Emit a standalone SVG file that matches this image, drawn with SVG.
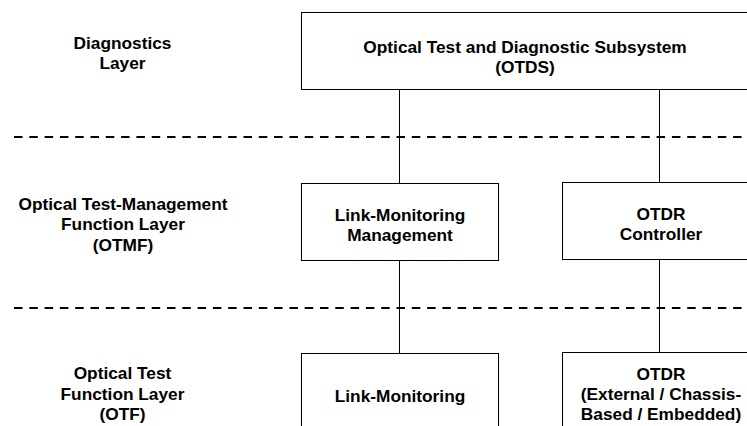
<svg xmlns="http://www.w3.org/2000/svg" width="747" height="426" viewBox="0 0 747 426">
<style>
  .box { fill: #ffffff; stroke: #000000; stroke-width: 1; }
  .t { font-family: "Liberation Sans", Arial, sans-serif; font-weight: bold; font-size: 17.3px; fill: #000000; text-anchor: middle; }
  .conn { stroke: #000000; stroke-width: 1; fill: none; }
  .layer { stroke: #000000; stroke-width: 2; stroke-dasharray: 8.5 6.8; fill: none; }
</style>
<rect x="0" y="0" width="747" height="426" fill="#ffffff"/>
<g id="layer-separators">
  <line class="layer" x1="14" y1="137" x2="747" y2="137"/>
  <line class="layer" x1="14" y1="308" x2="747" y2="308"/>
</g>
<g id="layer-labels">
  <text class="t" x="122.5" y="48.5">Diagnostics</text>
  <text class="t" x="122.5" y="68.5">Layer</text>
  <text class="t" x="123" y="209.5">Optical Test-Management</text>
  <text class="t" x="123" y="230">Function Layer</text>
  <text class="t" x="123" y="250.5">(OTMF)</text>
  <text class="t" x="122.5" y="379">Optical Test</text>
  <text class="t" x="122.5" y="399.5">Function Layer</text>
  <text class="t" x="122.5" y="420">(OTF)</text>
</g>
<g id="connectors">
  <line class="conn" x1="399.5" y1="89.5" x2="399.5" y2="183.5"/>
  <line class="conn" x1="399.5" y1="260.5" x2="399.5" y2="353.5"/>
  <line class="conn" x1="659.5" y1="89.5" x2="659.5" y2="182.5"/>
  <line class="conn" x1="659.5" y1="259.5" x2="659.5" y2="352.5"/>
</g>
<g id="otds">
  <rect class="box" x="301.5" y="12.5" width="448" height="77"/>
  <text class="t" x="525" y="53">Optical Test and Diagnostic Subsystem</text>
  <text class="t" x="525" y="73">(OTDS)</text>
</g>
<g id="link-monitoring-management">
  <rect class="box" x="301.5" y="183.5" width="197" height="77"/>
  <text class="t" x="400" y="221">Link-Monitoring</text>
  <text class="t" x="400" y="241">Management</text>
</g>
<g id="otdr-controller">
  <rect class="box" x="562.5" y="182.5" width="197" height="77"/>
  <text class="t" x="661" y="220">OTDR</text>
  <text class="t" x="661" y="240">Controller</text>
</g>
<g id="link-monitoring">
  <rect class="box" x="301.5" y="353.5" width="197" height="90"/>
  <text class="t" x="400" y="401.5">Link-Monitoring</text>
</g>
<g id="otdr">
  <rect class="box" x="562.5" y="352.5" width="197" height="90"/>
  <text class="t" x="661" y="380">OTDR</text>
  <text class="t" x="661" y="400">(External / Chassis-</text>
  <text class="t" x="661" y="420">Based / Embedded)</text>
</g>
</svg>
